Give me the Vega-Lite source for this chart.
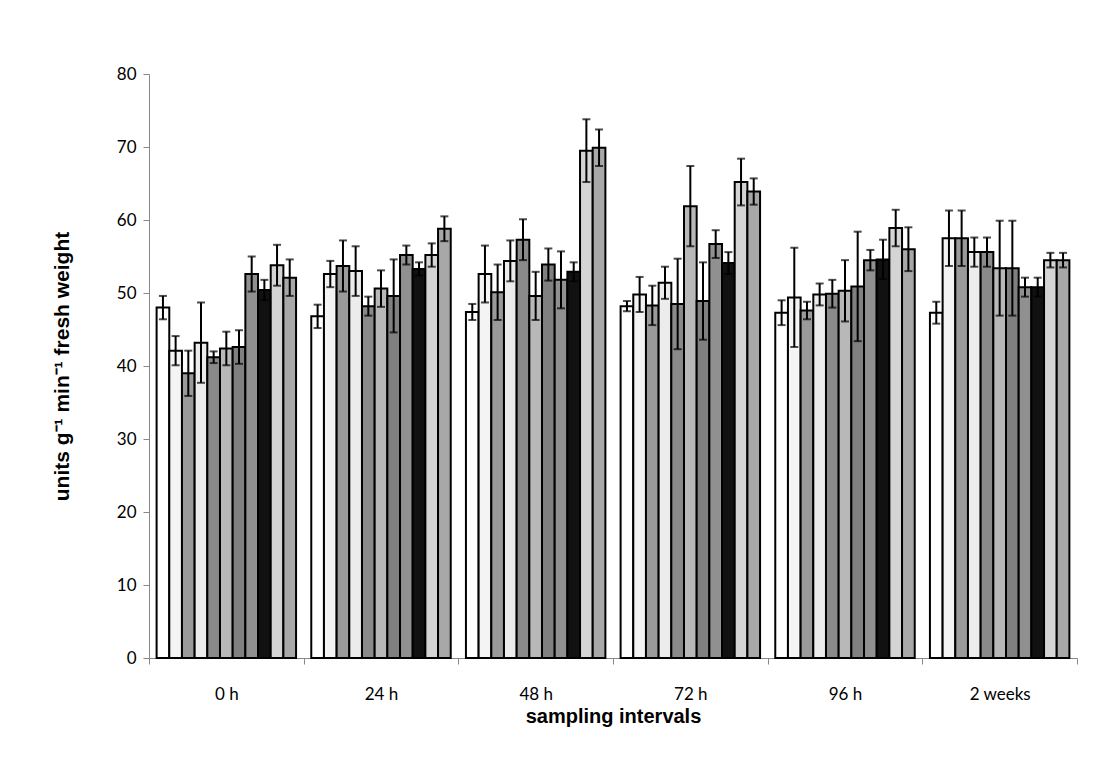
{
  "$schema": "https://vega.github.io/schema/vega-lite/v6.json",
  "width": 928,
  "height": 584,
  "autosize": {"type": "none"},
  "padding": {"left": 149, "top": 74, "right": 43, "bottom": 105},
  "background": "white",
  "config": {"view": {"stroke": null}},
  "data": {"values": [
    {"g":"0 h","s":"T1","v":48.0,"lo":46.4,"hi":49.6},
    {"g":"0 h","s":"T2","v":42.1,"lo":40.1,"hi":44.1},
    {"g":"0 h","s":"T3","v":39.0,"lo":35.9,"hi":42.1},
    {"g":"0 h","s":"T4","v":43.2,"lo":37.7,"hi":48.7},
    {"g":"0 h","s":"T5","v":41.2,"lo":40.4,"hi":42.0},
    {"g":"0 h","s":"T6","v":42.4,"lo":40.1,"hi":44.7},
    {"g":"0 h","s":"T7","v":42.6,"lo":40.3,"hi":44.9},
    {"g":"0 h","s":"T8","v":52.6,"lo":50.2,"hi":55.0},
    {"g":"0 h","s":"T9","v":50.4,"lo":49.0,"hi":51.8},
    {"g":"0 h","s":"T10","v":53.8,"lo":51.0,"hi":56.6},
    {"g":"0 h","s":"T11","v":52.1,"lo":49.6,"hi":54.6},
    {"g":"24 h","s":"T1","v":46.8,"lo":45.2,"hi":48.4},
    {"g":"24 h","s":"T2","v":52.6,"lo":50.8,"hi":54.4},
    {"g":"24 h","s":"T3","v":53.7,"lo":50.2,"hi":57.2},
    {"g":"24 h","s":"T4","v":53.0,"lo":49.6,"hi":56.4},
    {"g":"24 h","s":"T5","v":48.2,"lo":46.9,"hi":49.5},
    {"g":"24 h","s":"T6","v":50.6,"lo":48.1,"hi":53.1},
    {"g":"24 h","s":"T7","v":49.6,"lo":44.6,"hi":54.6},
    {"g":"24 h","s":"T8","v":55.2,"lo":53.9,"hi":56.5},
    {"g":"24 h","s":"T9","v":53.3,"lo":52.4,"hi":54.2},
    {"g":"24 h","s":"T10","v":55.2,"lo":53.6,"hi":56.8},
    {"g":"24 h","s":"T11","v":58.8,"lo":57.1,"hi":60.5},
    {"g":"48 h","s":"T1","v":47.4,"lo":46.3,"hi":48.5},
    {"g":"48 h","s":"T2","v":52.6,"lo":48.7,"hi":56.5},
    {"g":"48 h","s":"T3","v":50.1,"lo":46.3,"hi":53.9},
    {"g":"48 h","s":"T4","v":54.4,"lo":51.6,"hi":57.2},
    {"g":"48 h","s":"T5","v":57.3,"lo":54.5,"hi":60.1},
    {"g":"48 h","s":"T6","v":49.6,"lo":46.3,"hi":52.9},
    {"g":"48 h","s":"T7","v":53.9,"lo":51.7,"hi":56.1},
    {"g":"48 h","s":"T8","v":51.8,"lo":47.9,"hi":55.7},
    {"g":"48 h","s":"T9","v":52.9,"lo":51.6,"hi":54.2},
    {"g":"48 h","s":"T10","v":69.5,"lo":65.2,"hi":73.8},
    {"g":"48 h","s":"T11","v":69.9,"lo":67.4,"hi":72.4},
    {"g":"72 h","s":"T1","v":48.2,"lo":47.5,"hi":48.9},
    {"g":"72 h","s":"T2","v":49.8,"lo":47.4,"hi":52.2},
    {"g":"72 h","s":"T3","v":48.3,"lo":45.6,"hi":51.0},
    {"g":"72 h","s":"T4","v":51.4,"lo":49.2,"hi":53.6},
    {"g":"72 h","s":"T5","v":48.5,"lo":42.3,"hi":54.7},
    {"g":"72 h","s":"T6","v":61.9,"lo":56.4,"hi":67.4},
    {"g":"72 h","s":"T7","v":48.9,"lo":43.6,"hi":54.2},
    {"g":"72 h","s":"T8","v":56.7,"lo":54.8,"hi":58.6},
    {"g":"72 h","s":"T9","v":54.1,"lo":52.6,"hi":55.6},
    {"g":"72 h","s":"T10","v":65.2,"lo":62.0,"hi":68.4},
    {"g":"72 h","s":"T11","v":63.9,"lo":62.1,"hi":65.7},
    {"g":"96 h","s":"T1","v":47.3,"lo":45.6,"hi":49.0},
    {"g":"96 h","s":"T2","v":49.4,"lo":42.6,"hi":56.2},
    {"g":"96 h","s":"T3","v":47.6,"lo":46.4,"hi":48.8},
    {"g":"96 h","s":"T4","v":49.8,"lo":48.3,"hi":51.3},
    {"g":"96 h","s":"T5","v":49.9,"lo":48.0,"hi":51.8},
    {"g":"96 h","s":"T6","v":50.3,"lo":46.1,"hi":54.5},
    {"g":"96 h","s":"T7","v":50.9,"lo":43.4,"hi":58.4},
    {"g":"96 h","s":"T8","v":54.5,"lo":53.1,"hi":55.9},
    {"g":"96 h","s":"T9","v":54.6,"lo":51.9,"hi":57.3},
    {"g":"96 h","s":"T10","v":58.9,"lo":56.4,"hi":61.4},
    {"g":"96 h","s":"T11","v":56.0,"lo":53.0,"hi":59.0},
    {"g":"2 weeks","s":"T1","v":47.3,"lo":45.8,"hi":48.8},
    {"g":"2 weeks","s":"T2","v":57.5,"lo":53.7,"hi":61.3},
    {"g":"2 weeks","s":"T3","v":57.5,"lo":53.7,"hi":61.3},
    {"g":"2 weeks","s":"T4","v":55.6,"lo":53.6,"hi":57.6},
    {"g":"2 weeks","s":"T5","v":55.6,"lo":53.6,"hi":57.6},
    {"g":"2 weeks","s":"T6","v":53.4,"lo":46.9,"hi":59.9},
    {"g":"2 weeks","s":"T7","v":53.4,"lo":46.9,"hi":59.9},
    {"g":"2 weeks","s":"T8","v":50.8,"lo":49.5,"hi":52.1},
    {"g":"2 weeks","s":"T9","v":50.8,"lo":49.5,"hi":52.1},
    {"g":"2 weeks","s":"T10","v":54.5,"lo":53.5,"hi":55.5},
    {"g":"2 weeks","s":"T11","v":54.5,"lo":53.5,"hi":55.5}
  ]},
  "encoding": {
    "x": {
      "field": "g", "type": "nominal", "sort": null,
      "scale": {"paddingInner": 0, "paddingOuter": 0},
      "axis": {
        "title": "sampling intervals",
        "labelAngle": 0,
        "labelFont": "Lato", "labelFontSize": 17, "labelColor": "#000",
        "labelPadding": 22,
        "tickBand": "extent", "tickSize": 6, "tickColor": "#888", "tickWidth": 1,
        "domainColor": "#888", "domainWidth": 1,
        "titleFont": "Liberation Sans", "titleFontSize": 20, "titleFontWeight": "bold", "titleColor": "#000",
        "titlePadding": 4
      }
    },
    "xOffset": {"field": "s", "type": "nominal", "sort": null, "scale": {"paddingInner": 0, "paddingOuter": 0.6}}
  },
  "layer": [
    {
      "mark": {"type": "bar", "stroke": "#000", "strokeWidth": 2},
      "encoding": {
        "y": {
          "field": "v", "type": "quantitative",
          "scale": {"domain": [0, 80], "nice": false},
          "axis": {
            "title": "units g⁻¹ min⁻¹ fresh weight",
            "values": [0,10,20,30,40,50,60,70,80],
            "grid": false,
            "labelFont": "Lato", "labelFontSize": 17, "labelColor": "#000", "labelPadding": 7,
            "tickSize": 6, "tickColor": "#888", "domainColor": "#888",
            "titleFont": "Liberation Sans", "titleFontSize": 21, "titleFontWeight": "bold", "titleColor": "#000",
            "titlePadding": 44
          }
        },
        "fill": {
          "field": "s", "type": "nominal", "sort": null, "legend": null,
          "scale": {
            "domain": ["T1","T2","T3","T4","T5","T6","T7","T8","T9","T10","T11"],
            "range": ["#ffffff","#f4f4f4","#9a9a9a","#ececec","#8a8a8a","#b8b8b8","#808080","#909090","#111111","#d4d4d4","#a8a8a8"]
          }
        }
      }
    },
    {
      "mark": {"type": "rule", "color": "#000", "strokeWidth": 2},
      "encoding": {
        "y": {"field": "lo", "type": "quantitative"},
        "y2": {"field": "hi"}
      }
    },
    {
      "mark": {"type": "tick", "color": "#000", "thickness": 2, "size": 8},
      "encoding": {"y": {"field": "hi", "type": "quantitative"}}
    },
    {
      "mark": {"type": "tick", "color": "#000", "thickness": 2, "size": 8},
      "encoding": {"y": {"field": "lo", "type": "quantitative"}}
    }
  ]
}
